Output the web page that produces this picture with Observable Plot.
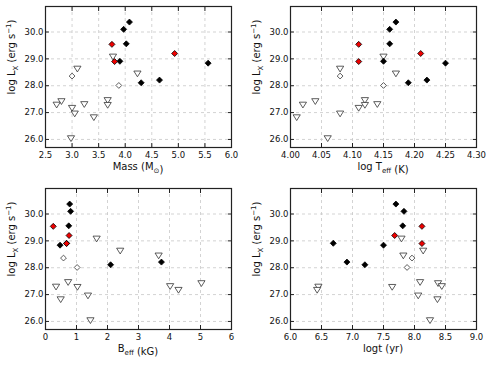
<!DOCTYPE html>
<html><head><meta charset="utf-8">
<script src="https://cdn.jsdelivr.net/npm/d3@7"></script>
<script src="https://cdn.jsdelivr.net/npm/@observablehq/plot@0.6"></script>
<style>
body{margin:0;background:#fff}
#wrap{position:relative;width:491px;height:365px;background:#fff}
#wrap>div{position:absolute}
</style>
</head><body><div id="wrap"></div>
<script>
// One entry per star: detection class, log Lx and the four parameters
const kind    = ["det","det","det","det","det","det","det","red","red","red","open","open","lim","lim","lim","lim","lim","lim","lim","lim","lim","lim","lim","lim"];
const logLx   = [30.37,30.10,29.56,28.91,28.84,28.21,28.11,29.54,29.20,28.90,28.36,28.01,29.07,28.62,28.44,27.45,27.41,27.28,27.30,27.27,27.16,26.95,26.81,26.03];
const mass    = [4.08,3.97,4.02,3.90,5.56,4.645,4.30,3.75,4.93,3.80,3.00,3.88,3.77,3.10,4.23,3.67,2.80,2.71,3.23,3.67,3.00,3.05,3.41,2.98];
const logTeff = [4.17,4.16,4.16,4.15,4.25,4.22,4.19,4.11,4.21,4.11,4.08,4.15,4.15,4.08,4.17,4.12,4.04,4.02,4.14,4.12,4.11,4.08,4.01,4.06];
const Beff    = [0.78,0.81,0.75,0.68,0.47,3.74,2.10,0.25,0.76,0.68,0.58,1.02,1.65,2.41,3.65,0.73,5.03,0.34,4.02,1.03,4.29,1.37,0.49,1.45];
const logt    = [7.70,7.83,7.81,6.69,7.50,6.91,7.20,8.12,7.68,8.12,7.96,7.88,7.79,8.14,7.82,8.09,8.38,6.45,8.44,7.64,6.43,8.06,8.37,8.25];

const yTicks    = [26,27,28,29,30];
const massTicks = [2.5,3.0,3.5,4.0,4.5,5.0,5.5,6.0];
const teffTicks = [4.00,4.05,4.10,4.15,4.20,4.25,4.30];
const beffTicks = [0,1,2,3,4,5,6];
const logtTicks = [6.0,6.5,7.0,7.5,8.0,8.5,9.0];

const rows = kind.map((k,i)=>({k, lx:logLx[i], mass:mass[i], teff:logTeff[i], beff:Beff[i], logt:logt[i]}));

const diamond = {draw(c,s){const h=Math.sqrt(s/Math.PI);c.moveTo(0,-h);c.lineTo(h,0);c.lineTo(0,h);c.lineTo(-h,0);c.closePath();}};
const triDown = {draw(c,s){const h=Math.sqrt(s/Math.PI);c.moveTo(-h,-h*0.8);c.lineTo(h,-h*0.8);c.lineTo(0,h*0.8);c.closePath();}};

const FONT = "DejaVu Sans";
const panels = [
  {left:0,   top:0,   w:245, h:182, key:"mass", domain:[2.5,6.0], ticks:massTicks, fmt:".1f",
   xlabel:[["Mass (M",0],["⊙",1],[")",0]]},
  {left:245, top:0,   w:246, h:182, key:"teff", domain:[4.0,4.3], ticks:teffTicks, fmt:".2f",
   xlabel:[["log T",0],["eff",1],[" (K)",0]]},
  {left:0,   top:182, w:245, h:183, key:"beff", domain:[0,6], ticks:beffTicks, fmt:"d",
   xlabel:[["B",0],["eff",1],[" (kG)",0]]},
  {left:245, top:182, w:246, h:183, key:"logt", domain:[6,9], ticks:logtTicks, fmt:".1f",
   xlabel:[["logt (yr)",0]]}
];

const wrap = document.getElementById("wrap");
for (const p of panels) {
  const mL = 45, mT = 6, mR = p.w - 231 + (p.left ? 0 : 0) , mB = p.h - 147;
  const marginRight = p.left ? (491 - 476) : (245 - 231);
  const grid = {stroke:"#c8c8c8", strokeOpacity:1, strokeDasharray:"3,3", strokeWidth:0.8};
  const fmt = d3.format(p.fmt);
  const chart = Plot.plot({
    width: p.w, height: p.h,
    marginLeft: mL, marginTop: mT, marginRight, marginBottom: mB,
    style: {fontFamily: FONT, fontSize: "8.5px", background: "white", color: "#111", overflow: "visible"},
    x: {domain: p.domain},
    y: {domain: [25.7, 30.95]},
    marks: [
      Plot.gridX(p.ticks, grid),
      Plot.gridY(yTicks, grid),
      Plot.dot(rows.filter(d=>d.k==="lim"), {x:p.key, y:"lx", symbol:triDown, r:3.6, fill:"white", stroke:"#333", strokeWidth:0.8}),
      Plot.dot(rows.filter(d=>d.k==="open"), {x:p.key, y:"lx", symbol:diamond, r:2.9, fill:"white", stroke:"#333", strokeWidth:0.8}),
      Plot.dot(rows.filter(d=>d.k==="det"), {x:p.key, y:"lx", symbol:diamond, r:3.0, fill:"black", stroke:"black", strokeWidth:0.8}),
      Plot.dot(rows.filter(d=>d.k==="red"), {x:p.key, y:"lx", symbol:diamond, r:3.0, fill:"#ee0000", stroke:"black", strokeWidth:0.8}),
      Plot.axisX(p.ticks, {anchor:"bottom", tickSize:-4, tickPadding:8.5, tickFormat:fmt, label:null, stroke:"#222"}),
      Plot.axisX(p.ticks, {anchor:"top", tickSize:-4, tickFormat:()=>"", label:null, stroke:"#222"}),
      Plot.axisY(yTicks, {anchor:"left", tickSize:-4, tickPadding:6, tickFormat:d3.format(".1f"), label:null, stroke:"#222"}),
      Plot.axisY(yTicks, {anchor:"right", tickSize:-4, tickFormat:()=>"", label:null, stroke:"#222"}),
      Plot.frame({stroke:"#222", strokeWidth:1.2})
    ]
  });
  const div = document.createElement("div");
  div.style.left = p.left + "px"; div.style.top = p.top + "px";
  div.appendChild(chart);
  wrap.appendChild(div);

  const svg = d3.select(chart);
  const cx = mL + (p.w - mL - marginRight) / 2;
  // x label
  const xt = svg.append("text").attr("x", cx).attr("y", 170).attr("text-anchor","middle")
    .attr("font-family", FONT).attr("font-size", 10).attr("fill", "#111");
  for (const [s, sub] of p.xlabel) {
    if (sub) xt.append("tspan").attr("dy", 2.5).attr("font-size", 7).text(s);
    else xt.append("tspan").attr("dy", xt.selectAll("tspan").size() && xt.select("tspan:last-child").attr("font-size") ? -2.5 : 0).text(s);
  }
  // y label
  const yt = svg.append("text").attr("transform", "translate(15,57) rotate(-90)").attr("text-anchor","middle")
    .attr("font-family", FONT).attr("font-size", 10).attr("fill", "#111");
  yt.append("tspan").text("log L");
  yt.append("tspan").attr("dy", 2.5).attr("font-size", 7).text("X");
  yt.append("tspan").attr("dy", -2.5).text(" (erg s");
  yt.append("tspan").attr("dy", -4).attr("font-size", 7).text("−1");
  yt.append("tspan").attr("dy", 4).text(")");
}
</script>
</body></html>
